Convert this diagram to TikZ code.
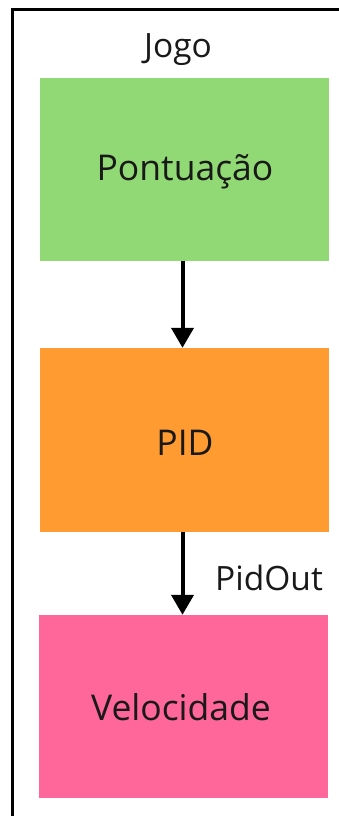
\documentclass[tikz,border=0pt]{standalone}
\usepackage{fontspec}
\setmainfont{Open Sans}
\usetikzlibrary{arrows.meta}
\definecolor{boxgreen}{RGB}{145,217,117}
\definecolor{boxorange}{RGB}{255,155,48}
\definecolor{boxpink}{RGB}{255,102,153}
\tikzset{
  x=1pt, y=-1pt,
  blockbox/.style={draw=none, minimum width=289pt, minimum height=183pt, inner sep=0pt},
  lbl/.style={font=\fontsize{33.5}{40}\selectfont, text=black!90, inner sep=0pt, anchor=base},
  boxlbl/.style={lbl, font=\fontsize{35.5}{42}\selectfont},
  arr/.style={line width=4pt, -{Triangle[width=22pt,length=20pt]}, shorten >=0pt}
}
\begin{document}
\begin{tikzpicture}
\useasboundingbox (0,0) rectangle (339,816);
\clip (0,0) rectangle (339,816);
\fill[white] (0,0) rectangle (339,816);
% frame
\draw[line width=3pt] (12.5,830) |- (360,10);
% boxes
\node[blockbox, fill=boxgreen] (green) at (184,169) {};
\node[blockbox, fill=boxorange, minimum height=184pt] (orange) at (184,440) {};
\node[blockbox, fill=boxpink] (pink) at (183,706.5) {};
% labels
\node[lbl] (jogo) at (178,57) {Jogo};
\node[boxlbl] (pont) at (185,180) {Pontuação};
\node[boxlbl] (pid) at (185,455) {PID};
\node[boxlbl] (vel) at (181,720) {Velocidade};
% arrows
\draw[arr] (green.south -| 182.5,0) -- (orange.north -| 182.5,0);
\draw[arr] (orange.south -| 182.5,0) -- (pink.north -| 182.5,0);
\node[lbl, anchor=base west] (pidout) at (215,590) {PidOut};
\end{tikzpicture}
\end{document}
